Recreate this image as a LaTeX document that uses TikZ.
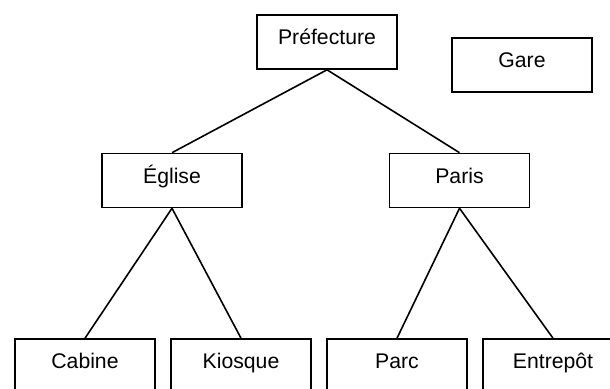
\documentclass[tikz,border=0pt]{standalone}
\usepackage{fontspec}
\setmainfont{Liberation Sans}
\begin{document}
\begin{tikzpicture}[x=1pt,y=-1pt,
  box/.style={draw=black, line width=1.6pt, minimum width=140pt, minimum height=54pt, inner sep=0pt, text height=14pt, text depth=9pt, font=\fontsize{21.2}{25}\selectfont},
  link/.style={draw=black, line width=1.6pt}]
\useasboundingbox (0,0) rectangle (610,388);
\clip (0,0) rectangle (610,388);
\fill[white] (0,0) rectangle (610,388);
\node[box] (pref) at (327,42) {Préfecture};
\node[box] (gare) at (522,65) {Gare};
\node[box] (egl) at (172,180.5) {Église};
\node[box] (paris) at (459.5,180.5) {Paris};
\node[box] (cab) at (85,366) {Cabine};
\node[box] (kio) at (241,366) {Kiosque};
\node[box] (parc) at (397,366) {Parc};
\node[box] (ent) at (553,366) {Entrepôt};
\draw[link] (pref.south) -- (egl.north);
\draw[link] (pref.south) -- (paris.north);
\draw[link] (egl.south) -- (cab.north);
\draw[link] (egl.south) -- (kio.north);
\draw[link] (paris.south) -- (parc.north);
\draw[link] (paris.south) -- (ent.north);
\end{tikzpicture}
\end{document}
